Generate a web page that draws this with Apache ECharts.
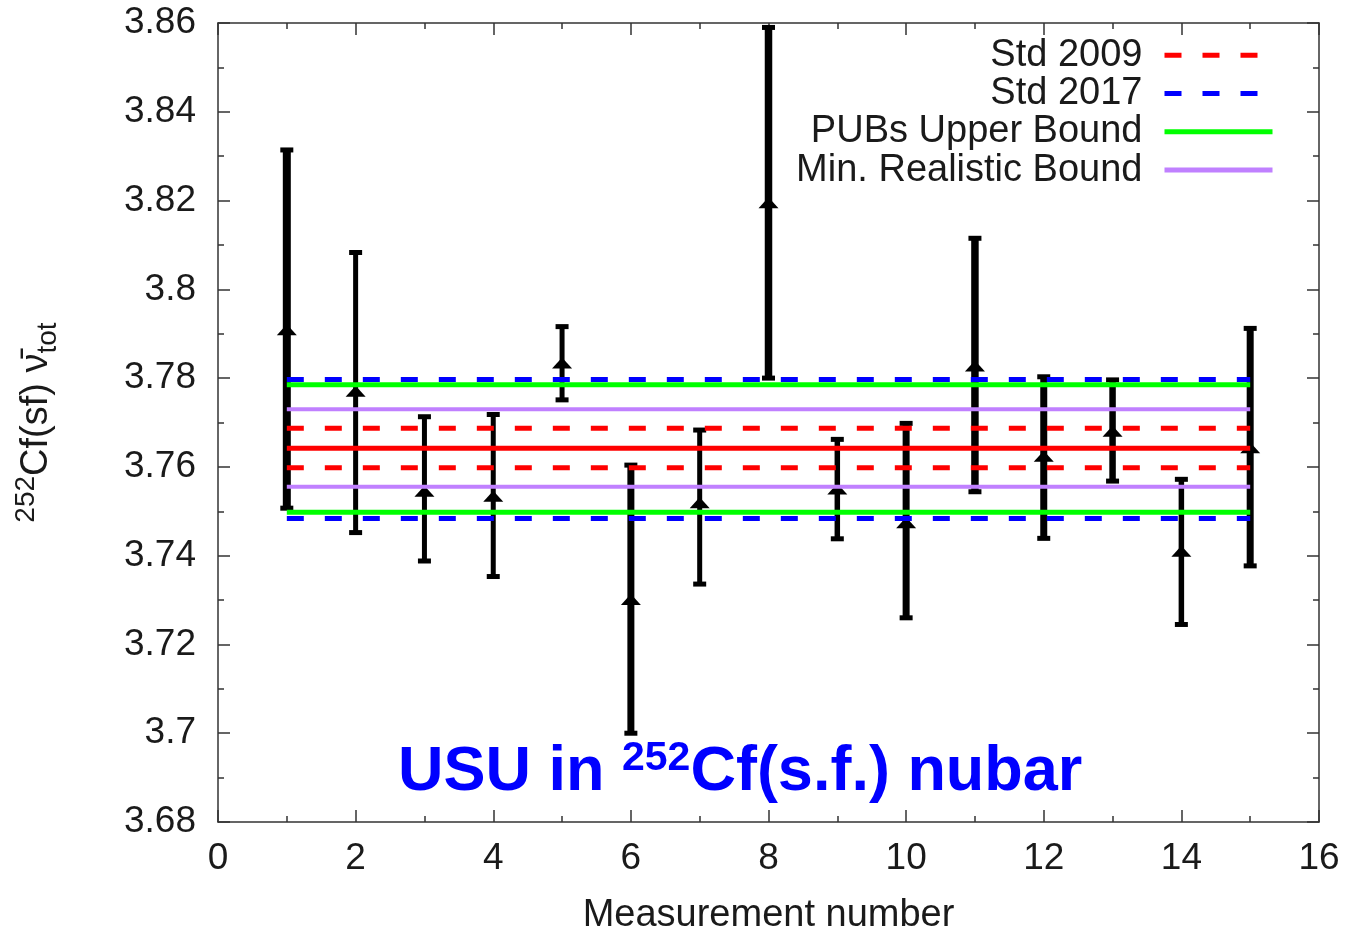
<!DOCTYPE html>
<html>
<head>
<meta charset="utf-8">
<script src="https://cdn.jsdelivr.net/npm/echarts@6/dist/echarts.min.js"></script>
<style>
html,body{margin:0;padding:0;background:#fff;}
#chart{width:1347px;height:932px;}
</style>
</head>
<body>
<div id="chart"></div>
<script>
// ---- data ----
const measurement = [1, 2, 3, 4, 5, 6, 7, 8, 9, 10, 11, 12, 13, 14, 15];
const nubar      = [3.7908, 3.7769, 3.7544, 3.7533, 3.7833, 3.7300, 3.7518, 3.8194, 3.7549, 3.7473, 3.7826, 3.7623, 3.7679, 3.7409, 3.7642];
const nubarLow   = [3.7507, 3.7452, 3.7388, 3.7353, 3.7751, 3.7000, 3.7336, 3.7800, 3.7438, 3.7260, 3.7544, 3.7439, 3.7568, 3.7245, 3.7377];
const nubarHigh  = [3.8314, 3.8083, 3.7713, 3.7718, 3.7916, 3.7604, 3.7683, 3.8590, 3.7662, 3.7698, 3.8115, 3.7803, 3.7796, 3.7572, 3.7912];

const bandRange = [1, 15];
const std2009Mean  = 3.7642;
const std2009Band  = [3.7598, 3.7687];
const std2017Band  = [3.7484, 3.7797];
const pubsBand     = [3.7498, 3.7785];
const minRealBand  = [3.7555, 3.7730];

const legendNames = ['Std 2009', 'Std 2017', 'PUBs Upper Bound', 'Min. Realistic Bound'];

// ---- style (kept separate from data) ----
const barWidths = [8, 5, 5, 5, 5, 7, 5, 7.5, 5.5, 7, 7.5, 7, 6.5, 5.5, 7];
const FONT = "'Liberation Sans', Arial, Helvetica, sans-serif";
const AXIS_COLOR = '#333';
const TEXT_COLOR = '#1a1a1a';

const chart = echarts.init(document.getElementById('chart'), null, {renderer: 'canvas'});

function hline(name, value, color, dashed, width) {
  return {
    type: 'line',
    name: name,
    data: [[bandRange[0], value], [bandRange[1], value]],
    symbol: 'none',
    showSymbol: false,
    silent: true,
    z: 5,
    itemStyle: {color: color},
    lineStyle: {color: color, width: width, type: dashed ? [17, 21] : 'solid'},
    animation: false
  };
}

const errData = measurement.map((m, i) => [m, nubar[i], nubarLow[i], nubarHigh[i]]);

const axisCommon = {
  axisLine: {show: true, onZero: false, lineStyle: {color: AXIS_COLOR, width: 1.5}},
  axisTick: {show: true, inside: true, length: 12, lineStyle: {color: AXIS_COLOR, width: 1.5}},
  minorTick: {show: true, splitNumber: 2, length: 6, lineStyle: {color: AXIS_COLOR, width: 1.5}},
  splitLine: {show: false},
  minorSplitLine: {show: false}
};

const option = {
  animation: false,
  backgroundColor: '#fff',
  textStyle: {fontFamily: FONT},
  title: {
    left: 393,
    top: 733,
    text: '{a|USU in }{s|252}{a|Cf(s.f.) nubar}',
    textStyle: {
      rich: {
        a: {fontSize: 63, fontWeight: 'bold', color: '#0000ff', fontFamily: FONT, lineHeight: 70},
        s: {fontSize: 41, fontWeight: 'bold', color: '#0000ff', fontFamily: FONT, verticalAlign: 'top', lineHeight: 70}
      }
    }
  },
  grid: {left: 218, right: 28, top: 23, bottom: 110, containLabel: false, outerBoundsMode: 'none'},
  legend: {
    data: legendNames,
    orient: 'vertical',
    right: 72,
    top: 36,
    padding: 0,
    align: 'right',
    itemWidth: 108,
    itemHeight: 14,
    itemGap: 0,
    selectedMode: false,
    itemStyle: {opacity: 0},
    lineStyle: {width: 5},
    textStyle: {
      fontSize: 38,
      color: TEXT_COLOR,
      fontFamily: FONT,
      lineHeight: 38.3,
      width: 380,
      align: 'right',
      padding: [0, 17, 0, 0]
    }
  },
  xAxis: [
    Object.assign({
      type: 'value', min: 0, max: 16, interval: 2, position: 'bottom',
      name: 'Measurement number', nameLocation: 'middle', nameGap: 75,
      nameTextStyle: {fontSize: 38, color: TEXT_COLOR, fontFamily: FONT},
      axisLabel: {fontSize: 37, color: TEXT_COLOR, margin: 18, fontFamily: FONT}
    }, axisCommon),
    Object.assign({
      type: 'value', min: 0, max: 16, interval: 2, position: 'top',
      axisLabel: {show: false}
    }, axisCommon)
  ],
  yAxis: [
    Object.assign({
      type: 'value', min: 3.68, max: 3.86, interval: 0.02, position: 'left',
      name: '{sup|252}{n|Cf(sf) ν̄}{sub|tot}',
      nameLocation: 'middle', nameRotate: 90, nameGap: 156,
      nameTextStyle: {
        color: TEXT_COLOR, fontFamily: FONT,
        rich: {
          n: {fontSize: 38, color: TEXT_COLOR, fontFamily: FONT, lineHeight: 50},
          sup: {fontSize: 28, color: TEXT_COLOR, fontFamily: FONT, verticalAlign: 'top', lineHeight: 50},
          sub: {fontSize: 28, color: TEXT_COLOR, fontFamily: FONT, verticalAlign: 'bottom', lineHeight: 50}
        }
      },
      axisLabel: {fontSize: 37, color: TEXT_COLOR, margin: 22, fontFamily: FONT,
        formatter: v => String(+v.toFixed(2))}
    }, axisCommon),
    Object.assign({
      type: 'value', min: 3.68, max: 3.86, interval: 0.02, position: 'right',
      axisLabel: {show: false}
    }, axisCommon)
  ],
  series: [
    {
      type: 'custom',
      name: 'Measurements',
      data: errData,
      z: 3,
      silent: true,
      clip: false,
      renderItem: function (params, api) {
        const x = api.value(0);
        const pc = api.coord([x, api.value(1)]);
        const pl = api.coord([x, api.value(2)]);
        const ph = api.coord([x, api.value(3)]);
        const w = barWidths[params.dataIndex];
        const cap = 6.5;
        const st = {stroke: '#000', lineWidth: w};
        const capSt = {stroke: '#000', lineWidth: 5};
        return {
          type: 'group',
          children: [
            {type: 'line', shape: {x1: pl[0], y1: pl[1], x2: ph[0], y2: ph[1]}, style: st},
            {type: 'line', shape: {x1: ph[0] - cap, y1: ph[1], x2: ph[0] + cap, y2: ph[1]}, style: capSt},
            {type: 'line', shape: {x1: pl[0] - cap, y1: pl[1], x2: pl[0] + cap, y2: pl[1]}, style: capSt},
            {type: 'polygon', shape: {points: [[pc[0], pc[1] - 6], [pc[0] - 10, pc[1] + 5], [pc[0] + 10, pc[1] + 5]]},
              style: {fill: '#000'}}
          ]
        };
      }
    },
    hline('Std 2017', std2017Band[0], '#0000ff', true, 5),
    hline('Std 2017', std2017Band[1], '#0000ff', true, 5),
    hline('PUBs Upper Bound', pubsBand[0], '#00ff00', false, 5),
    hline('PUBs Upper Bound', pubsBand[1], '#00ff00', false, 5),
    hline('Min. Realistic Bound', minRealBand[0], '#c080ff', false, 4),
    hline('Min. Realistic Bound', minRealBand[1], '#c080ff', false, 4),
    hline('Std 2009', std2009Band[0], '#ff0000', true, 5),
    hline('Std 2009', std2009Band[1], '#ff0000', true, 5),
    hline('Std 2009 mean', std2009Mean, '#ff0000', false, 5)
  ]
};

chart.setOption(option);
</script>
</body>
</html>
